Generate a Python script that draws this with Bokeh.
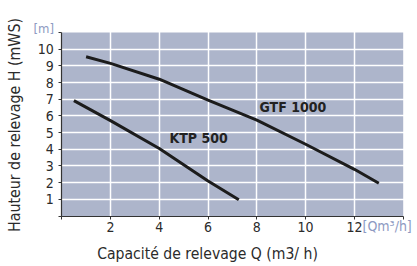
import math
from bokeh.plotting import figure
from bokeh.models import Label, Range1d, FixedTicker, BoxAnnotation
from bokeh.embed import file_html
from bokeh.resources import INLINE

# Data
gtf_q = [1.0, 2.0, 4.0, 6.0, 8.0, 10.0, 12.0, 13.0]
gtf_h = [9.55, 9.15, 8.2, 6.95, 5.75, 4.3, 2.8, 1.96]
ktp_q = [0.5, 2.0, 4.0, 6.0, 7.26]
ktp_h = [6.92, 5.72, 4.05, 2.1, 0.97]
x_ticks = [0, 2, 4, 6, 8, 10, 12, 14]
x_tick_labels = {0: "", 2: "2", 4: "4", 6: "6", 8: "8", 10: "10", 12: "12", 14: ""}
y_ticks = list(range(0, 12))
y_tick_labels = {i: (str(i) if 1 <= i <= 10 else "") for i in range(0, 12)}
Q_MAX = 14
H_MAX = 11

# layout (pixels)
W, H = 417, 266
PL, PR, PT, PB = 61.2, 402.7, 32.0, 215.5
sx = (PR - PL) / Q_MAX
sy = (PB - PT) / H_MAX
x_range = Range1d(-PL / sx, Q_MAX + (W - PR) / sx)
y_range = Range1d(-(H - PB) / sy, H_MAX + PT / sy)

FONT = "DejaVu Sans Condensed"
DARK = "#2b2b2b"
UNIT = "#8e9ac2"

p = figure(width=W, height=H, output_backend="svg", toolbar_location=None,
           x_range=x_range, y_range=y_range, min_border=0)
p.outline_line_color = None
p.background_fill_color = "white"
p.border_fill_color = "white"

p.add_layout(BoxAnnotation(left=0, right=Q_MAX, bottom=0, top=H_MAX,
                           fill_color="#adb5cb", fill_alpha=1.0,
                           line_color=None, level="image"))

p.xgrid.ticker = FixedTicker(ticks=[2, 4, 6, 8, 10, 12])
p.xgrid.bounds = (0, H_MAX)
p.ygrid.ticker = FixedTicker(ticks=list(range(1, 11)))
p.ygrid.bounds = (0, Q_MAX)
p.grid.grid_line_color = "white"
p.grid.grid_line_width = 1.5

for ax in (p.xaxis, p.yaxis):
    ax.fixed_location = 0
    ax.axis_line_color = "#333333"
    ax.axis_line_width = 1.2
    ax.major_tick_line_color = "#333333"
    ax.major_tick_in = 0
    ax.major_tick_out = 3
    ax.minor_tick_line_color = None
    ax.major_label_text_font = FONT
    ax.major_label_text_font_size = "14px"
    ax.major_label_text_color = DARK

p.xaxis.bounds = (0, Q_MAX)
p.yaxis.bounds = (0, H_MAX)
p.xaxis.ticker = FixedTicker(ticks=x_ticks)
p.xaxis.major_label_overrides = x_tick_labels
p.xaxis.major_label_standoff = 3
p.yaxis.ticker = FixedTicker(ticks=y_ticks)
p.yaxis.major_label_overrides = y_tick_labels
p.yaxis.major_label_standoff = 5

p.line(gtf_q, gtf_h, line_color="#1c1c1c", line_width=3)
p.line(ktp_q, ktp_h, line_color="#1c1c1c", line_width=3)

p.add_layout(Label(x=8.11, y=6.07, text="GTF 1000", text_font=FONT, text_font_size="14px",
                   text_font_style="bold", text_color="#222222"))
p.add_layout(Label(x=4.42, y=4.18, text="KTP 500", text_font=FONT, text_font_size="14px",
                   text_font_style="bold", text_color="#222222"))

# units
p.add_layout(Label(x=33, y=H - 35, x_units="screen", y_units="screen",
                   text="[m]", text_font=FONT, text_font_size="13px", text_color=UNIT))
p.add_layout(Label(x=362, y=H - 233, x_units="screen", y_units="screen",
                   text="[Qm³/h]", text_font=FONT, text_font_size="14px", text_color=UNIT))

# axis titles
p.add_layout(Label(x=96.7, y=H - 262.5, x_units="screen", y_units="screen",
                   text="Capacité de relevage Q (m3/ h)", text_font=FONT,
                   text_font_size="15.6px", text_color=DARK))
p.add_layout(Label(x=14, y=H - 124.5, x_units="screen", y_units="screen",
                   text="Hauteur de relevage H (mWS)", text_font=FONT,
                   text_font_size="15.8px", text_color=DARK, text_baseline="middle",
                   text_align="center", angle=math.pi / 2))

open("out.html", "w").write(file_html(p, INLINE))
